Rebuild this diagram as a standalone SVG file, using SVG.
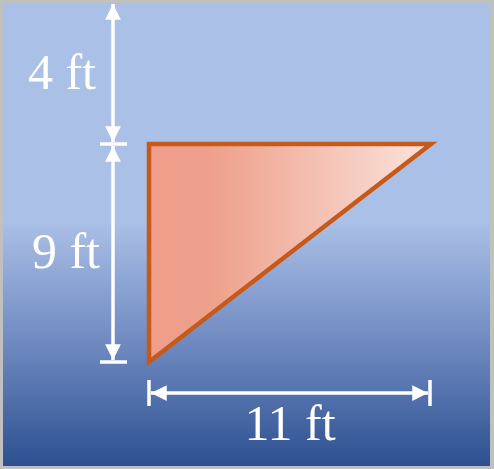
<svg xmlns="http://www.w3.org/2000/svg" width="494" height="469" viewBox="0 0 494 469">
<defs>
<linearGradient id="bg" x1="0" y1="0" x2="0" y2="1">
<stop offset="0" stop-color="#abc0e6"/>
<stop offset="0.47" stop-color="#abc0e6"/>
<stop offset="0.7" stop-color="#7791c6"/>
<stop offset="1" stop-color="#2d5091"/>
</linearGradient>
<linearGradient id="tri" x1="149" y1="0" x2="431" y2="0" gradientUnits="userSpaceOnUse">
<stop offset="0" stop-color="#ee9e8b"/>
<stop offset="0.22" stop-color="#eea08b"/>
<stop offset="1" stop-color="#fbe3dc"/>
</linearGradient>
<marker id="ah" viewBox="0 0 10 10" refX="10" refY="5" markerWidth="4.5" markerHeight="4.5" orient="auto-start-reverse" markerUnits="strokeWidth">
<path d="M0,0 L10,5 L0,10 z" fill="#fff"/>
</marker>
<style>
.dim{stroke:#fff;stroke-width:3.5;fill:none}
.lbl{font-family:"Liberation Serif","DejaVu Serif",serif;font-size:50px;fill:#fff;text-anchor:middle}
</style>
</defs>
<rect x="0" y="0" width="494" height="469" fill="#c0c0c0"/>
<rect x="3" y="3" width="487" height="463" fill="url(#bg)"/>
<g id="triangle">
<polygon points="149,144 431,144 149,362" fill="url(#tri)" stroke="#c55a1a" stroke-width="4.5" stroke-linejoin="miter"/>
</g>
<g id="connectors">
<line class="dim" x1="113" y1="4" x2="113" y2="142" marker-start="url(#ah)" marker-end="url(#ah)"/>
<line class="dim" x1="113" y1="146" x2="113" y2="360" marker-start="url(#ah)" marker-end="url(#ah)"/>
<line class="dim" x1="100" y1="144" x2="127" y2="144"/>
<line class="dim" x1="100" y1="362" x2="127" y2="362"/>
<line class="dim" x1="151" y1="393" x2="428" y2="393" marker-start="url(#ah)" marker-end="url(#ah)"/>
<line class="dim" x1="149" y1="380" x2="149" y2="406"/>
<line class="dim" x1="430" y1="380" x2="430" y2="406"/>
</g>
<g id="label-4ft"><text class="lbl" x="62" y="89">4 ft</text></g>
<g id="label-9ft"><text class="lbl" x="66" y="268">9 ft</text></g>
<g id="label-11ft"><text class="lbl" x="290" y="440">11 ft</text></g>
</svg>
